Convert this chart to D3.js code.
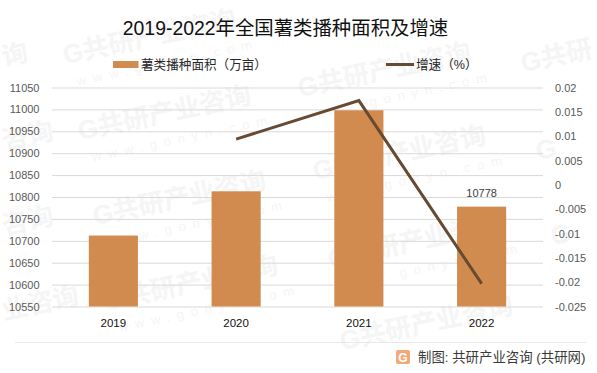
<!DOCTYPE html>
<html><head><meta charset="utf-8">
<script src="https://cdn.jsdelivr.net/npm/d3@7/dist/d3.min.js"></script>
<style>html,body{margin:0;padding:0;background:#fff;overflow:hidden}svg{display:block}
text{font-family:"Liberation Sans","Noto Sans CJK SC",sans-serif}</style></head><body>
<script>
const titleText="2019-2022年全国薯类播种面积及增速";
const years=["2019","2020","2021","2022"];
const area=[10712,10813,10998,10778];
const growth=[null,0.0094,0.0173,-0.0203];
const leftTicks=[10550,10600,10650,10700,10750,10800,10850,10900,10950,11000,11050];
const rightTicks=[-0.025,-0.02,-0.015,-0.01,-0.005,0,0.005,0.01,0.015,0.02];
const legendArea="薯类播种面积（万亩）";
const legendGrowth="增速（%）";
const source="制图: 共研产业咨询 (共研网)";
const wmFull=[[65,64],[80,140],[95,225],[107,310],[300,97],[315,180],[330,268]];
const wmPartial=[[342,350,"G共研产业咨询",""],[523,72,"G共研",""],[538,160,"G",""],[553,245,"G",""],[4,66,"询",""],[4,150,"咨询",""],[4,235,"咨询",""],[4,320,"业咨询",""]];

const W=597,H=373,m={l:52,r:543,t:87.5,b:306.5};
const svg=d3.select("body").append("svg").attr("width",W).attr("height",H);
const x=d3.scaleBand().domain(years).range([m.l,m.r]).paddingInner(0.6).paddingOuter(0.3);
const yL=d3.scaleLinear().domain([10550,11050]).range([m.b,m.t]);
const yR=d3.scaleLinear().domain([-0.025,0.02]).range([m.b,m.t]);

// watermark
const wm=svg.append("g").attr("class","watermark");
const wmColor="#f5f5f5";
wmFull.forEach(([a,b])=>{
  const g=wm.append("g").attr("transform",`translate(${a},${b}) rotate(-12)`);
  g.append("text").text("G共研产业咨询").attr("font-size",26).attr("font-weight",700).attr("fill",wmColor);
  g.append("text").text("www.gonyn.com").attr("x",8).attr("y",24).attr("font-size",13).attr("letter-spacing",7).attr("fill",wmColor);
});
wmPartial.forEach(([a,b,t])=>{
  wm.append("text").text(t).attr("transform",`translate(${a},${b}) rotate(-12)`)
    .attr("font-size",26).attr("font-weight",700).attr("fill",wmColor);
});

// grid + left axis
const gl=svg.append("g").attr("transform",`translate(${m.l},0)`)
  .call(d3.axisLeft(yL).tickValues(leftTicks).tickFormat(d3.format("d")).tickSize(-(m.r-m.l)).tickPadding(12.5));
gl.select(".domain").remove();
gl.selectAll("line").attr("stroke","#d9d9d9").attr("stroke-width",1);
gl.selectAll("text").attr("fill","#595959").attr("font-size",11);

// right axis
const gr=svg.append("g").attr("transform",`translate(${m.r},0)`)
  .call(d3.axisRight(yR).tickValues(rightTicks).tickFormat(d=>String(+d.toFixed(3))).tickSize(0).tickPadding(12));
gr.select(".domain").remove();
gr.selectAll("text").attr("fill","#595959").attr("font-size",11);

// bars
svg.append("g").selectAll("rect").data(years).join("rect")
  .attr("x",d=>x(d)).attr("width",x.bandwidth())
  .attr("y",(d,i)=>yL(area[i])).attr("height",(d,i)=>m.b-yL(area[i]))
  .attr("fill","#d18b4f");

// bar label
svg.append("text").text(area[3]).attr("x",x(years[3])+x.bandwidth()/2).attr("y",yL(area[3])-10)
  .attr("text-anchor","middle").attr("font-size",11).attr("fill","#404040");

// line
const line=d3.line().defined(d=>d!==null).x((d,i)=>x(years[i])+x.bandwidth()/2).y(d=>yR(d));
svg.append("path").attr("d",line(growth)).attr("fill","none").attr("stroke","#664a32").attr("stroke-width",3);

// category labels
const gx=svg.append("g").attr("transform",`translate(0,${m.b})`)
  .call(d3.axisBottom(x).tickSize(0).tickPadding(12));
gx.select(".domain").remove();
gx.selectAll("text").attr("fill","#111").attr("font-size",11.5);

// title
svg.append("text").text(titleText).attr("x",285.5).attr("y",35).attr("text-anchor","middle")
  .attr("font-size",19.4).attr("fill","#111");

// legend
svg.append("rect").attr("x",113).attr("y",61).attr("width",25.5).attr("height",7).attr("fill","#d18b4f");
svg.append("text").text(legendArea).attr("x",141).attr("y",69).attr("font-size",12.6).attr("fill","#262626");
svg.append("line").attr("x1",386).attr("x2",414).attr("y1",64.5).attr("y2",64.5).attr("stroke","#664a32").attr("stroke-width",3);
svg.append("text").text(legendGrowth).attr("x",416).attr("y",69).attr("font-size",12.6).attr("fill","#262626");

// footer
svg.append("line").attr("x1",15).attr("x2",586).attr("y1",342.5).attr("y2",342.5).attr("stroke","#e8e8e8");
const lg=svg.append("g").attr("transform","translate(396,350)");
lg.append("rect").attr("width",14).attr("height",14).attr("rx",2).attr("fill","#f4a977");
lg.append("text").text("G").attr("x",7).attr("y",11.5).attr("text-anchor","middle").attr("font-size",12).attr("font-weight",700).attr("fill","#fff");
svg.append("text").text(source).attr("x",418).attr("y",362).attr("font-size",13.4).attr("fill","#3a3a3a");
</script></body></html>
